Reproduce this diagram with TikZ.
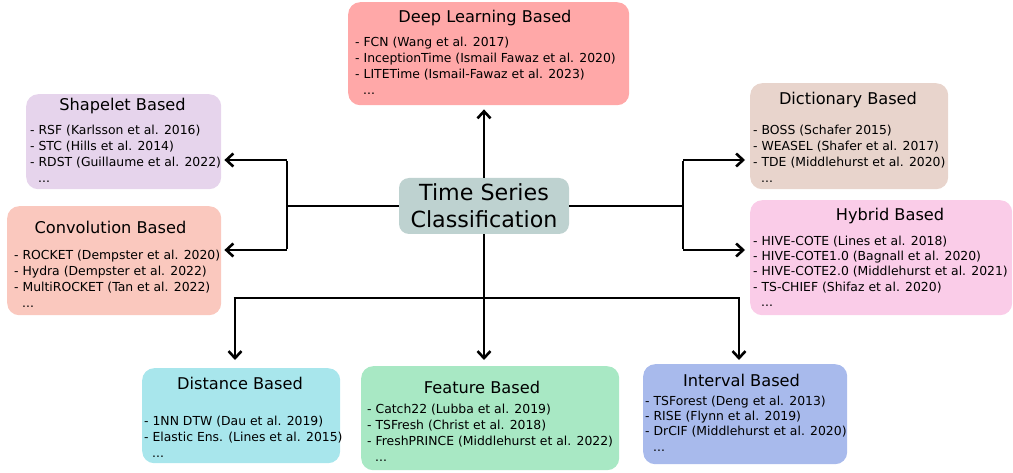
\documentclass[tikz,border=0pt]{standalone}
\usepackage{fontspec}
\setmainfont{DejaVu Sans}
\usetikzlibrary{arrows.meta}

\definecolor{deepc}{HTML}{FFA8A8}
\definecolor{shapec}{HTML}{E6D4EC}
\definecolor{convc}{HTML}{FAC8BE}
\definecolor{dictc}{HTML}{E8D4CC}
\definecolor{hybc}{HTML}{FACCE8}
\definecolor{tscc}{HTML}{BED2D0}
\definecolor{distc}{HTML}{A8E6EC}
\definecolor{featc}{HTML}{A8E8C4}
\definecolor{intvc}{HTML}{A8BAEC}

\tikzset{
  catbox/.style={draw=none, rounded corners=12pt, anchor=north west, inner sep=0pt},
  ttl/.style={font=\fontsize{16.2}{19}\selectfont, anchor=center, inner sep=0pt},
  lst/.style={font=\fontsize{12.4}{16}\selectfont, align=left, anchor=north west, inner sep=0pt},
  lsttight/.style={lst, font=\fontsize{12.4}{15.3}\selectfont},
  conn/.style={line width=2.6pt, draw=black},
  arr/.style={conn, -{Straight Barb[length=7pt,width=13pt,line width=2.6pt]}},
}
\newcommand{\moredots}{\hspace*{8pt}...}

\begin{document}
\begin{tikzpicture}[x=1pt,y=-1pt]
\useasboundingbox (0,0) rectangle (1013,473);

% category boxes
\node[catbox, fill=deepc,  minimum width=281pt, minimum height=103pt] (deep)   at (348,2)   {};
\node[catbox, fill=shapec, minimum width=195pt, minimum height=95pt]  (shape)  at (26,94)   {};
\node[catbox, fill=convc,  minimum width=214pt, minimum height=109pt] (conv)   at (7,206)   {};
\node[catbox, fill=dictc,  minimum width=198pt, minimum height=106pt] (dict)   at (750,83)  {};
\node[catbox, fill=hybc,   minimum width=262pt, minimum height=115pt] (hyb)    at (750,200) {};
\node[catbox, fill=distc,  minimum width=198pt, minimum height=95pt]  (dist)   at (142,368) {};
\node[catbox, fill=featc,  minimum width=258pt, minimum height=104pt] (feat)   at (361,366) {};
\node[catbox, fill=intvc,  minimum width=204pt, minimum height=100pt] (intv)   at (643,364) {};

% central node
\node[draw=none, fill=tscc, rounded corners=10pt, minimum width=170pt, minimum height=56pt,
      inner sep=0pt, align=center, font=\fontsize{22.2}{27}\selectfont] (tsc) at (484,206)
      {Time Series\\Classification};

% titles
\node[ttl] (deepT)  at (485,18)    {Deep Learning Based};
\node[ttl] (shapeT) at (122.5,106) {Shapelet Based};
\node[ttl] (convT)  at (110.5,227) {Convolution Based};
\node[ttl] (dictT)  at (848,100)   {Dictionary Based};
\node[ttl] (hybT)   at (890,216)   {Hybrid Based};
\node[ttl] (distT)  at (240,383)   {Distance Based};
\node[ttl] (featT)  at (482,387)   {Feature Based};
\node[ttl] (intvT)  at (741.5,380) {Interval Based};

% method lists
\node[lst] (deepL) at (355,36.5) {- FCN (Wang et al. 2017)\\- InceptionTime (Ismail Fawaz et al. 2020)\\- LITETime (Ismail-Fawaz et al. 2023)\\\moredots};
\node[lst] (shapeL) at (30,124.5) {- RSF (Karlsson et al. 2016)\\- STC (Hills et al. 2014)\\- RDST (Guillaume et al. 2022)\\\moredots};
\node[lst] (convL) at (14,249.5) {- ROCKET (Dempster et al. 2020)\\- Hydra (Dempster et al. 2022)\\- MultiROCKET (Tan et al. 2022)\\\moredots};
\node[lst] (dictL) at (753,124.5) {- BOSS (Schafer 2015)\\- WEASEL (Shafer et al. 2017)\\- TDE (Middlehurst et al. 2020)\\\moredots};
\node[lsttight] (hybL) at (753,235.5) {- HIVE-COTE (Lines et al. 2018)\\- HIVE-COTE1.0 (Bagnall et al. 2020)\\- HIVE-COTE2.0 (Middlehurst et al. 2021)\\- TS-CHIEF (Shifaz et al. 2020)\\\moredots};
\node[lst] (distL) at (144,415.5) {- 1NN DTW (Dau et al. 2019)\\- Elastic Ens. (Lines et al. 2015)\\\moredots};
\node[lst] (featL) at (367,403.5) {- Catch22 (Lubba et al. 2019)\\- TSFresh (Christ et al. 2018)\\- FreshPRINCE (Middlehurst et al. 2022)\\\moredots};
\node[lsttight] (intvL) at (645,395.5) {- TSForest (Deng et al. 2013)\\- RISE (Flynn et al. 2019)\\- DrCIF (Middlehurst et al. 2020)\\\moredots};

% junction points
\coordinate (lt) at (287,160);
\coordinate (lb) at (287,250);
\coordinate (rt) at (683,160);
\coordinate (rb) at (683,250);
\coordinate (bl) at (235,298);
\coordinate (br) at (739,298);

% connectors
\draw[arr, shorten >=4pt] (tsc.north) -- (deep.south -| tsc.north);
\draw[conn] (tsc.west) -- (tsc.west -| lt);
\draw[conn] ([yshift=-1.3pt]lt) -- ([yshift=1.3pt]lb);
\draw[arr, shorten >=3pt] (lt) -- (lt -| shape.east);
\draw[arr, shorten >=3pt] (lb) -- (lb -| conv.east);
\draw[conn] (tsc.east) -- (tsc.east -| rt);
\draw[conn] ([yshift=-1.3pt]rt) -- ([yshift=1.3pt]rb);
\draw[arr, shorten >=5pt] (rt) -- (rt -| dict.west);
\draw[arr, shorten >=5pt] (rb) -- (rb -| hyb.west);
\draw[arr, shorten >=6pt] (tsc.south) -- (feat.north -| tsc.south);
\draw[conn] ([xshift=-1.3pt]bl) -- ([xshift=1.3pt]br);
\draw[arr, shorten >=8pt] (bl) -- (bl |- dist.north);
\draw[arr, shorten >=4pt] (br) -- (br |- intv.north);
\end{tikzpicture}
\end{document}
